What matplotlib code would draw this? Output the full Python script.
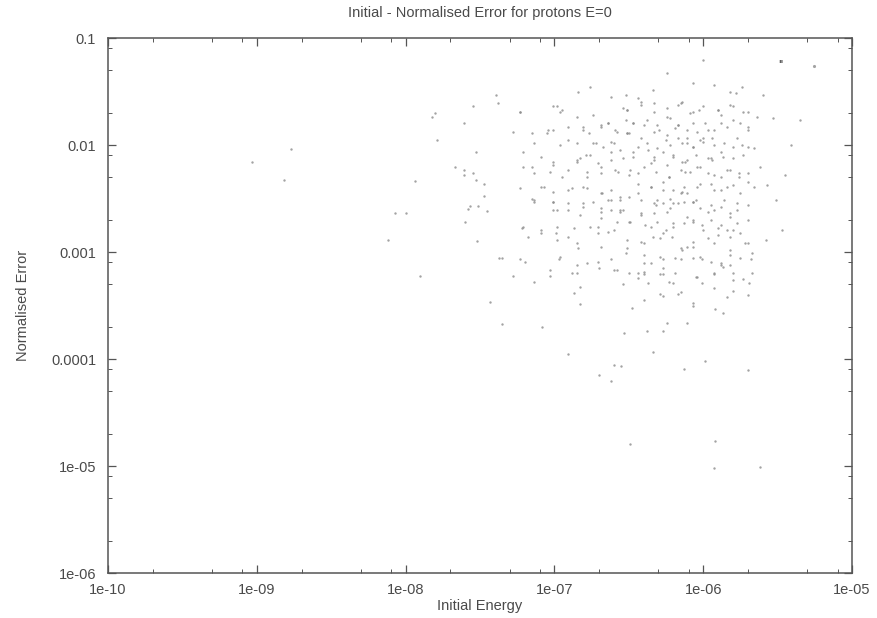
"""
Initial - Normalised Error for protons E=0
scatter of normalised error vs initial energy (log-log)
"""

import matplotlib
matplotlib.use('Agg')
import matplotlib.pyplot as plt
from matplotlib.ticker import FixedLocator, FixedFormatter, LogLocator, NullFormatter
import numpy as np

# values, stored as log10(energy), log10(error)
log_energy = [
    -6.00, -6.24, -6.07, -6.34, -5.82, -5.74, -6.76, -6.84, -6.52, -6.62,
    -6.44, -5.60, -5.93, -5.78, -6.14, -6.17, -6.54, -6.51, -6.42, -6.33,
    -6.07, -6.03, -5.90, -5.80, -5.70, -7.01, -7.23, -6.96, -6.74, -6.24,
    -5.88, -5.53, -5.64, -6.69, -6.64, -6.59, -6.47, -6.40, -6.30, -6.19,
    -6.17, -6.11, -6.04, -5.99, -5.93, -5.84, -5.75, -5.70, -6.81, -6.91,
    -7.04, -6.50, -6.24, -6.11, -6.00, -6.85, -6.74, -6.62, -6.44, -6.38,
    -6.31, -6.22, -6.14, -6.07, -6.00, -5.93, -5.80, -5.74, -5.66, -6.96,
    -7.14, -5.41, -6.47, -6.33, -6.20, -6.11, -5.95, -5.87, -6.76, -6.62,
    -6.83, -7.01, -6.85, -6.69, -6.57, -6.44, -6.35, -6.24, -6.23, -6.14,
    -6.12, -6.04, -5.97, -5.88, -5.82, -5.76, -5.70, -5.62, -7.14, -6.95,
    -6.78, -7.21, -7.07, -6.91, -6.81, -6.68, -6.56, -6.44, -6.35, -6.27,
    -6.15, -6.13, -6.07, -6.02, -5.93, -5.84, -5.75, -5.66, -5.57, -7.15,
    -7.01, -6.74, -6.62, -6.31, -6.20, -6.98, -6.83, -6.69, -6.56, -6.42,
    -6.33, -6.24, -6.11, -5.97, -5.93, -5.82, -5.70, -7.21, -7.09, -6.87,
    -6.71, -6.60, -6.50, -6.35, -6.20, -6.07, -6.00, -5.88, -5.80, -5.47,
    -7.18, -6.98, -6.85, -6.71, -6.51, -6.40, -6.29, -6.15, -6.07, -5.93,
    -5.82, -5.72, -6.96, -6.78, -6.62, -6.52, -6.27, -6.15, -6.02, -5.88,
    -5.68, -7.23, -7.03, -6.85, -6.58, -6.40, -6.27, -6.04, -5.80,
    # left tail
    -7.39, -7.38, -7.55, -7.82, -7.80, -7.61, -7.79, -8.77, -9.03, -8.82,
    -7.53, -7.67, -7.61, -7.61, -7.55, -7.53, -7.47, -7.94, -7.47, -7.51,
    -7.57, -7.58, -7.45, -8.07, -8.00, -7.60, -7.52, -8.12, -7.90, -7.43,
    -7.37,
    # lower part
    -7.35, -7.20, -7.03, -7.14, -7.28, -6.97, -6.85, -6.88, -6.71, -6.70,
    -6.60, -6.50, -6.40, -6.44, -6.54, -6.37, -6.40, -6.29, -6.27, -6.19,
    -6.17, -6.23, -6.07, -6.05, -6.01, -5.95, -5.93, -5.87, -5.82, -5.80,
    -5.73, -5.67, -5.69, -5.67, -6.83, -6.87, -6.83, -6.40, -6.48, -6.07,
    -5.92, -5.87, -6.29, -6.27, -6.24, -6.11, -6.27, -6.38, -6.53, -7.08,
    -7.35, -6.91, -6.34, -5.99, -6.13, -6.60, -6.55, -6.70, -6.62, -5.70,
    -6.49, -5.92, -5.93, -5.62,
    -5.51, -5.45, -5.35, -5.58,
    # core, upper left
    -7.23, -6.98, -6.95, -6.85, -6.81, -6.69, -6.64, -6.58, -6.52, -6.51,
    -7.05, -7.01, -7.15, -7.28, -6.91, -6.77, -6.72, -6.67, -6.60, -6.56,
    -7.21, -7.09, -7.01, -6.85, -6.79, -6.71, -6.62, -6.54, -7.15, -7.03,
    -6.91, -6.78, -6.69, -6.59, -6.50, -7.23, -7.09, -7.01, -6.88, -6.78,
    -6.69, -6.62, -6.56, -7.14, -7.01, -6.91, -6.81, -6.64, -6.50,
    # core, upper right
    -6.51, -6.42, -6.33, -6.24, -6.15, -6.09, -6.00, -5.90, -5.82, -5.73,
    -6.47, -6.38, -6.31, -6.22, -6.17, -6.07, -5.97, -5.88, -5.80, -5.70,
    -6.51, -6.42, -6.33, -6.25, -6.17, -6.11, -6.07, -6.02, -5.94, -5.86,
    -5.77, -5.70, -6.47, -6.37, -6.33, -6.27, -6.20, -6.12, -6.05, -5.97,
    -5.94, -5.88, -5.80, -5.73, -6.49, -6.40, -6.32, -6.23, -6.15, -6.09,
    -6.02, -5.93, -5.84, -5.76, -6.44, -6.35, -6.27, -6.20, -6.14, -6.11,
    -6.04, -5.95, -5.88, -5.80, -5.70, -6.42, -6.33, -6.22, -6.13, -6.05,
    -5.95, -5.86, -5.77,
    # core, lower left
    -7.14, -6.81, -6.69, -6.62, -6.56, -6.91, -7.01, -6.69, -6.58, -7.22,
    -6.98, -6.99, -7.09, -6.91, -6.64, -6.76, -6.51, -6.84, -6.69,
    # core, lower right
    -6.54, -6.42, -6.32, -6.27, -6.22, -6.17, -6.07, -6.02, -5.88, -5.82,
    -5.77, -5.70, -6.49, -6.39, -6.31, -6.25, -6.20, -6.13, -6.07, -6.01,
    -5.95, -5.90, -5.84, -5.77, -6.42, -6.34, -6.27, -6.21, -6.14, -6.11,
    -6.07, -5.97, -5.90, -5.82, -5.75, -5.70, -6.40, -6.35, -6.19, -6.01,
    -5.88, -5.82, -5.75, -6.44, -6.29, -6.20, -5.93, -5.80, -6.15, -6.07,
    -5.93, -5.84, -5.70,
]

log_error = [
    -1.21, -1.33, -1.42, -1.49, -1.50, -1.46, -1.46, -1.50, -1.53, -1.55,
    -1.56, -1.53, -1.44, -1.51, -1.60, -1.63, -1.65, -1.67, -1.60, -1.69,
    -1.69, -1.67, -1.67, -1.64, -1.69, -1.64, -1.69, -1.69, -1.72, -1.74,
    -1.72, -1.75, -1.74, -1.83, -1.79, -1.86, -1.79, -1.81, -1.86, -1.84,
    -1.81, -1.86, -1.88, -1.79, -1.86, -1.83, -1.79, -1.86, -1.86, -1.83,
    -1.86, -1.89, -1.91, -1.93, -1.93, -1.98, -1.98, -1.97, -2.02, -1.98,
    -2.03, -2.00, -1.98, -2.02, -1.97, -2.00, -2.02, -2.00, -2.03, -2.00,
    -1.98, -2.00, -2.11, -2.11, -2.09, -2.14, -2.12, -2.11, -2.09, -2.07,
    -2.12, -2.19, -2.16, -2.21, -2.25, -2.26, -2.17, -2.19, -2.30, -2.16,
    -2.25, -2.21, -2.26, -2.30, -2.23, -2.30, -2.26, -2.21, -2.26, -2.30,
    -2.30, -2.21, -2.39, -2.42, -2.39, -2.45, -2.49, -2.45, -2.39, -2.42,
    -2.45, -2.39, -2.53, -2.36, -2.42, -2.39, -2.45, -2.39, -2.37, -2.50,
    -2.53, -2.53, -2.51, -2.51, -2.54, -2.61, -2.65, -2.63, -2.63, -2.65,
    -2.64, -2.63, -2.67, -2.63, -2.61, -2.67, -2.70, -2.77, -2.79, -2.78,
    -2.77, -2.79, -2.72, -2.77, -2.73, -2.72, -2.79, -2.75, -2.79, -2.79,
    -2.86, -2.89, -2.92, -2.82, -2.89, -2.92, -2.87, -2.96, -2.95, -2.92,
    -2.98, -2.92, -3.05, -3.10, -3.07, -3.01, -3.07, -3.07, -3.05, -3.10,
    -3.07, -3.07, -3.17, -3.20, -3.17, -3.19, -3.21, -3.23, -3.20,
    # left tail
    -1.53, -1.61, -1.64, -1.74, -1.70, -1.79, -1.95, -2.04, -2.16, -2.33,
    -2.07, -2.21, -2.23, -2.28, -2.26, -2.33, -2.36, -2.34, -2.48, -2.57,
    -2.57, -2.60, -2.62, -2.64, -2.64, -2.72, -2.90, -2.89, -3.22, -3.47,
    -3.06,
    # lower part
    -3.06, -3.09, -3.22, -3.28, -3.22, -3.07, -3.12, -3.20, -3.09, -3.15,
    -3.17, -3.20, -3.21, -3.24, -3.30, -3.29, -3.10, -3.05, -3.15, -3.20,
    -3.39, -3.28, -3.06, -3.23, -3.29, -3.09, -3.21, -3.14, -3.12, -3.36,
    -3.25, -3.20, -3.29, -3.01, -3.33, -3.38, -3.49, -3.45, -3.52, -3.50,
    -3.53, -3.57, -3.39, -3.41, -3.66, -3.66, -3.74, -3.74, -3.76, -3.70,
    -3.67, -3.95, -3.93, -4.02, -4.09, -4.06, -4.07, -4.15, -4.21, -4.10,
    -4.79, -4.77, -5.02, -5.01,
    -2.51, -2.28, -1.77, -2.89,
    # core, upper left
    -1.69, -1.64, -1.67, -1.74, -1.83, -1.81, -1.79, -1.88, -1.77, -1.89,
    -1.89, -1.86, -1.89, -1.88, -1.95, -1.89, -1.98, -2.02, -1.98, -2.05,
    -2.07, -2.11, -2.16, -2.14, -2.09, -2.17, -2.14, -2.12, -2.21, -2.25,
    -2.23, -2.25, -2.26, -2.23, -2.28, -2.40, -2.39, -2.44, -2.40, -2.40,
    -2.45, -2.42, -2.51, -2.51, -2.53, -2.54, -2.58, -2.51, -2.49,
    # core, upper right
    -1.67, -1.63, -1.61, -1.65, -1.61, -1.70, -1.64, -1.67, -1.63, -1.69,
    -1.79, -1.77, -1.81, -1.75, -1.81, -1.79, -1.86, -1.79, -1.77, -1.83,
    -1.89, -1.93, -1.88, -1.95, -1.93, -1.98, -2.02, -1.95, -1.93, -1.98,
    -1.93, -2.02, -2.07, -2.05, -2.14, -2.07, -2.11, -2.16, -2.09, -2.12,
    -2.14, -2.07, -2.12, -2.09, -2.23, -2.21, -2.25, -2.30, -2.23, -2.25,
    -2.21, -2.28, -2.23, -2.26, -2.36, -2.39, -2.35, -2.42, -2.44, -2.45,
    -2.39, -2.36, -2.42, -2.37, -2.35, -2.51, -2.54, -2.50, -2.53, -2.51,
    -2.56, -2.51, -2.54,
    # core, lower left
    -2.53, -2.54, -2.59, -2.61, -2.61, -2.61, -2.61, -2.68, -2.72, -2.78,
    -2.77, -2.82, -2.82, -2.86, -2.81, -2.77, -2.96, -2.96, -2.95,
    # core, lower right
    -2.61, -2.64, -2.56, -2.54, -2.59, -2.54, -2.53, -2.59, -2.58, -2.64,
    -2.61, -2.56, -2.72, -2.75, -2.72, -2.79, -2.77, -2.73, -2.70, -2.75,
    -2.70, -2.78, -2.79, -2.73, -2.91, -2.86, -2.82, -2.86, -2.98, -2.95,
    -2.91, -2.87, -2.84, -2.86, -2.82, -2.92, -3.03, -3.10, -3.06, -3.07,
    -3.12, -3.03, -3.06, -3.20, -3.21, -3.29, -3.20, -3.26, -3.37, -3.48,
    -3.34, -3.42, -3.40,
]

energy = 10.0 ** np.array(log_energy)
error = 10.0 ** np.array(log_error)

x_ticks = [1e-10, 1e-9, 1e-8, 1e-7, 1e-6, 1e-5]
x_labels = ['1e-10', '1e-09', '1e-08', '1e-07', '1e-06', '1e-05']
y_ticks = [1e-6, 1e-5, 1e-4, 1e-3, 1e-2, 1e-1]
y_labels = ['1e-06', '1e-05', '0.0001', '0.001', '0.01', '0.1']

plt.rcParams['font.family'] = ['Liberation Sans', 'DejaVu Sans']
txt = '#4a4a4a'

fig = plt.figure(figsize=(8.77, 6.18), dpi=100)
ax = fig.add_axes([0.1231, 0.0728, 0.8484, 0.8657])

ax.scatter(energy, error, s=3, c='#8c8c8c', marker='o', linewidths=0,
           alpha=0.8, label="''")

ax.set_xscale('log')
ax.set_yscale('log')
ax.set_xlim(1e-10, 1e-5)
ax.set_ylim(1e-6, 1e-1)

ax.xaxis.set_major_locator(FixedLocator(x_ticks))
ax.xaxis.set_major_formatter(FixedFormatter(x_labels))
ax.yaxis.set_major_locator(FixedLocator(y_ticks))
ax.yaxis.set_major_formatter(FixedFormatter(y_labels))
ax.xaxis.set_minor_locator(LogLocator(base=10, subs=(2, 5, 8)))
ax.yaxis.set_minor_locator(LogLocator(base=10, subs=(2, 5, 8)))
ax.xaxis.set_minor_formatter(NullFormatter())
ax.yaxis.set_minor_formatter(NullFormatter())

ax.tick_params(which='both', direction='in', top=True, right=True,
               colors='#555555', labelcolor=txt, labelsize=10.5)
ax.tick_params(which='major', length=6, width=0.9)
ax.tick_params(which='minor', length=3, width=0.7)
ax.tick_params(axis='x', which='major', pad=7.5)
ax.tick_params(axis='y', which='major', pad=8.5)
for s in ax.spines.values():
    s.set_color('#555555')
    s.set_linewidth(1.1)

ax.set_title('Initial - Normalised Error for protons E=0', fontsize=10.5,
             color=txt, pad=15)
ax.set_xlabel('Initial Energy', fontsize=10.5, color=txt, labelpad=1)
ax.set_ylabel('Normalised Error', fontsize=10.5, color=txt, labelpad=15)

leg = ax.legend(loc='upper right', bbox_to_anchor=(0.985, 0.985),
                frameon=False, markerfirst=False, fontsize=10,
                handletextpad=1.2, markerscale=1.3)
for t in leg.get_texts():
    t.set_color(txt)

fig.savefig('out.png', dpi=100)
